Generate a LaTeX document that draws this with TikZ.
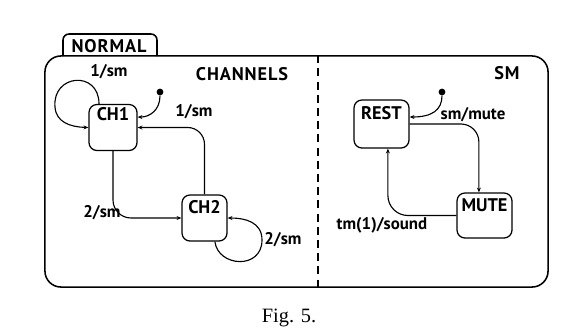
\documentclass[tikz,border=0pt]{standalone}
\usepackage{fontspec}
\setsansfont{PT Sans}
\newfontfamily\titlefont[LetterSpace=5]{PT Sans}
\newfontfamily\capfont{Liberation Serif}
\usetikzlibrary{arrows.meta,positioning,calc}

\begin{document}
\begin{tikzpicture}[
    x=0.025cm, y=0.025cm,
    superstate/.style={draw, line width=1.1pt, rounded corners=0.4cm, minimum width=12.575cm, minimum height=5.775cm},
    statebox/.style={draw, line width=0.9pt, rounded corners=0.2cm, minimum width=1.2cm, minimum height=1.15cm},
    lbl/.style={font=\sffamily\bfseries\fontsize{12}{14}\selectfont, inner sep=0pt},
    boxlbl/.style={font=\sffamily\bfseries\fontsize{13}{15}\selectfont, inner sep=0pt},
    titlelbl/.style={font=\titlefont\bfseries\fontsize{13}{15}\selectfont, inner sep=0pt},
    initdot/.style={circle, fill, inner sep=0pt, minimum size=0.17cm},
    trans/.style={-{Stealth[length=3.4pt,width=2.8pt]}, line width=0.8pt}
]
\useasboundingbox (0,0) rectangle (571,332);

% superstate with its tab
\node[superstate] (normal) at (296.5,160.5) {};
\draw[line width=1.1pt, rounded corners=0.15cm] (63,276) -- (63,298) -- (157,298) -- (157,276);
\node[titlelbl] (normalt) at (109,286) {NORMAL};
\draw[line width=1.1pt, dash pattern=on 2mm off 1.3mm] (normal.north -| 318,0) -- (normal.south -| 318,0);
\node[titlelbl] (chant) at (242,258) {CHANNELS};
\node[titlelbl] (smt) at (507,259) {SM};

% CHANNELS
\node[statebox] (ch1) at (113,204.5) {};
\node[boxlbl] (ch1t) at ([yshift=-2.6mm]ch1.north) {CH1};
\node[statebox, minimum width=1.125cm] (ch2) at (204.5,114) {};
\node[boxlbl] (ch2t) at ([yshift=-3.3mm]ch2.north) {CH2};
\node[initdot] (init1) at (160,240) {};

\draw[trans] ([xshift=-3.5mm]ch1.north) .. controls (99,262) and (52,258) .. (55,225)
    .. controls (56,210) and (70,205) .. (ch1.west);
\draw[trans] (init1) .. controls (160,222) and (150,215) .. ([yshift=2.6mm]ch1.east);
\draw[trans, rounded corners=0.42cm] (ch2.north) |- (ch1.east);
\draw[trans, rounded corners=0.45cm] (ch1.south) |- (ch2.west);
\draw[trans] ([xshift=2.6mm]ch2.south) .. controls (218,65) and (262,62) .. (262,92)
    .. controls (262,110) and (245,114) .. (ch2.east);

\node[lbl] (l1) at (109,260) {1/sm};
\node[lbl] (l2) at (194,220) {1/sm};
\node[lbl] (l3) at (102,119) {2/sm};
\node[lbl] (l4) at (283,92) {2/sm};

% SM
\node[statebox, minimum width=1.375cm, minimum height=1.2cm] (rest) at (381.5,208) {};
\node[boxlbl] (restt) at ([yshift=-3.5mm]rest.north) {REST};
\node[statebox, minimum width=1.375cm, minimum height=1.125cm] (mute) at (484.5,116.5) {};
\node[boxlbl] (mutet) at ([yshift=-3.1mm]mute.north) {MUTE};
\node[initdot] (init2) at (442,240) {};

\draw[trans] (init2) .. controls (442,222) and (432,215) .. ([yshift=1.75mm]rest.east);
\draw[trans, rounded corners=0.45cm] (rest.east) -| ([xshift=-1.4mm]mute.north);
\draw[trans, rounded corners=0.5cm] (mute.west) -| ([xshift=1.6mm]rest.south);

\node[lbl] (l5) at (473,217) {sm/mute};
\node[lbl] (l6) at (382,107) {tm(1)/sound};

\node[font=\capfont\fontsize{14.5}{16}\selectfont, inner sep=0pt] (fig) at (289,14) {Fig. 5.};
\end{tikzpicture}
\end{document}
